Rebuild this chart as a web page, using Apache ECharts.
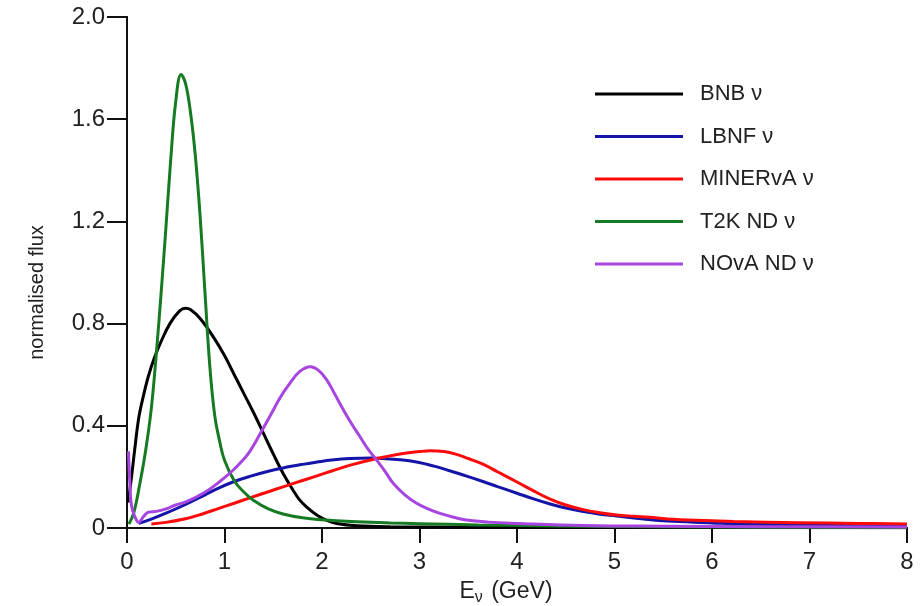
<!DOCTYPE html>
<html>
<head>
<meta charset="utf-8">
<script src="https://cdn.jsdelivr.net/npm/echarts@6/dist/echarts.min.js"></script>
<style>
  html, body { margin: 0; padding: 0; background: #fff; }
  #chart { width: 922px; height: 606px; }
</style>
</head>
<body>
<div id="chart"></div>
<script>
// Neutrino energy spectra (normalised flux vs E_nu in GeV)
const seriesNames = ['BNB ν', 'LBNF ν', 'MINERvA ν', 'T2K ND ν', 'NOvA ND ν'];

const bnbE = [0.01, 0.04, 0.08, 0.12, 0.17, 0.22, 0.28, 0.35, 0.44, 0.54, 0.6, 0.65, 0.75, 0.89, 1.0, 1.1, 1.2, 1.3, 1.4, 1.5, 1.6, 1.7, 1.77, 1.85, 1.95, 2.05, 2.15, 2.36, 2.7, 3.5, 5.0, 8.0];
const bnbF = [0.10, 0.18, 0.31, 0.43, 0.52, 0.595, 0.665, 0.73, 0.80, 0.85, 0.86, 0.855, 0.82, 0.745, 0.675, 0.60, 0.525, 0.45, 0.37, 0.29, 0.214, 0.15, 0.11, 0.08, 0.05, 0.03, 0.018, 0.009, 0.005, 0.003, 0.002, 0.001];

const lbnfE = [0.12, 0.25, 0.4, 0.6, 0.8, 0.95, 1.1, 1.26, 1.45, 1.6, 1.8, 1.95, 2.1, 2.29, 2.5, 2.63, 2.8, 2.97, 3.15, 3.31, 3.5, 3.65, 3.8, 4.0, 4.17, 4.34, 4.5, 4.68, 4.85, 5.02, 5.3, 5.54, 6.0, 6.22, 6.9, 8.0];
const lbnfF = [0.018, 0.035, 0.058, 0.092, 0.13, 0.158, 0.182, 0.202, 0.222, 0.235, 0.249, 0.258, 0.266, 0.272, 0.274, 0.272, 0.267, 0.258, 0.242, 0.224, 0.201, 0.182, 0.162, 0.136, 0.114, 0.094, 0.078, 0.064, 0.054, 0.047, 0.035, 0.027, 0.02, 0.016, 0.012, 0.01];

const minervaE = [0.25, 0.4, 0.6, 0.75, 0.95, 1.1, 1.26, 1.45, 1.6, 1.8, 1.95, 2.1, 2.29, 2.54, 2.8, 3.0, 3.11, 3.25, 3.38, 3.5, 3.65, 3.8, 4.0, 4.17, 4.34, 4.5, 4.68, 4.85, 5.02, 5.2, 5.36, 5.54, 6.0, 6.22, 6.9, 7.5, 8.0];
const minervaF = [0.016, 0.022, 0.036, 0.052, 0.078, 0.097, 0.118, 0.142, 0.161, 0.186, 0.204, 0.223, 0.246, 0.27, 0.29, 0.299, 0.302, 0.299, 0.288, 0.272, 0.25, 0.22, 0.18, 0.145, 0.113, 0.09, 0.072, 0.06, 0.051, 0.046, 0.042, 0.035, 0.028, 0.025, 0.021, 0.018, 0.016];

const t2kE = [0.02, 0.07, 0.13, 0.19, 0.25, 0.3, 0.35, 0.4, 0.45, 0.5, 0.555, 0.6, 0.65, 0.7, 0.75, 0.8, 0.85, 0.9, 0.95, 1.0, 1.1, 1.2, 1.3, 1.45, 1.6, 1.8, 2.0, 2.3, 2.7, 3.0, 3.6, 4.2, 5.0, 6.0, 8.0];
const t2kF = [0.015, 0.06, 0.17, 0.30, 0.47, 0.68, 0.92, 1.18, 1.45, 1.67, 1.775, 1.74, 1.63, 1.46, 1.22, 0.92, 0.63, 0.44, 0.34, 0.265, 0.185, 0.14, 0.108, 0.075, 0.055, 0.04, 0.032, 0.025, 0.02, 0.017, 0.012, 0.009, 0.006, 0.004, 0.002];

const novaE = [0.015, 0.03, 0.045, 0.08, 0.12, 0.17, 0.22, 0.3, 0.4, 0.5, 0.61, 0.8, 0.95, 1.09, 1.18, 1.26, 1.36, 1.47, 1.57, 1.67, 1.77, 1.88, 1.97, 2.05, 2.13, 2.22, 2.3, 2.39, 2.47, 2.56, 2.65, 2.73, 2.85, 2.97, 3.1, 3.21, 3.35, 3.48, 3.7, 4.0, 4.68, 5.5, 6.5, 8.0];
const novaF = [0.30, 0.17, 0.09, 0.045, 0.022, 0.045, 0.062, 0.065, 0.075, 0.09, 0.103, 0.14, 0.181, 0.227, 0.262, 0.30, 0.365, 0.44, 0.51, 0.566, 0.612, 0.631, 0.615, 0.579, 0.525, 0.462, 0.41, 0.357, 0.31, 0.266, 0.22, 0.175, 0.13, 0.097, 0.073, 0.057, 0.042, 0.031, 0.023, 0.018, 0.01, 0.007, 0.005, 0.004];

const xTicks = [0, 1, 2, 3, 4, 5, 6, 7, 8];
const yTicks = [0, 0.4, 0.8, 1.2, 1.6, 2.0];

const colors = ['#000000', '#1414a8', '#ff0a0a', '#167a22', '#a745e0'];
const energies = [bnbE, lbnfE, minervaE, t2kE, novaE];
const fluxes = [bnbF, lbnfF, minervaF, t2kF, novaF];

const pairs = (xs, ys) => xs.map((x, i) => [x, ys[i]]);

const chart = echarts.init(document.getElementById('chart'), null, { renderer: 'canvas' });

const fontFamily = 'Liberation Sans, Arial, sans-serif';
const axisLineStyle = { color: '#111', width: 2 };

chart.setOption({
  animation: false,
  color: colors,
  grid: { left: 127, right: 15, top: 17, bottom: 78, containLabel: false, outerBoundsMode: 'none' },
  legend: {
    orient: 'vertical',
    left: 590,
    top: 78,
    icon: 'rect',
    itemWidth: 88,
    itemHeight: 3,
    itemGap: 20.5,
    data: seriesNames,
    textStyle: { fontFamily, fontSize: 22, color: '#222', padding: [0, 0, 0, 12] }
  },
  xAxis: [{
    type: 'value',
    min: xTicks[0],
    max: xTicks[xTicks.length - 1],
    interval: 1,
    name: 'E{sub|ν} (GeV)',
    nameLocation: 'middle',
    nameGap: 49,
    nameTextStyle: {
      fontFamily, fontSize: 23, color: '#222',
      padding: [0, 22, 0, 0],
      rich: { sub: { fontFamily, fontSize: 16, color: '#222', verticalAlign: 'bottom', padding: [13, 2, 0, 0] } }
    },
    axisLine: { onZero: false, lineStyle: axisLineStyle },
    axisTick: { length: 15, lineStyle: axisLineStyle },
    axisLabel: { margin: 22, fontFamily, fontSize: 24, color: '#222' },
    splitLine: { show: false }
  }, {
    type: 'value',
    position: 'top',
    min: xTicks[0],
    max: xTicks[xTicks.length - 1],
    axisLine: { show: true, lineStyle: axisLineStyle },
    axisTick: { show: false },
    axisLabel: { show: false },
    splitLine: { show: false }
  }],
  yAxis: [{
    type: 'value',
    min: yTicks[0],
    max: yTicks[yTicks.length - 1],
    interval: 0.4,
    name: 'normalised flux',
    nameLocation: 'middle',
    nameGap: 80,
    nameTextStyle: { fontFamily, fontSize: 20, color: '#222', padding: [0, 40, 0, 0] },
    axisLine: { onZero: false, lineStyle: axisLineStyle },
    axisTick: { length: 20, lineStyle: axisLineStyle },
    axisLabel: {
      margin: 22, fontFamily, fontSize: 24, color: '#222',
      formatter: v => (v === 0 ? '0' : v.toFixed(1))
    },
    splitLine: { show: false }
  }, {
    type: 'value',
    position: 'right',
    min: yTicks[0],
    max: yTicks[yTicks.length - 1],
    axisLine: { show: true, lineStyle: axisLineStyle },
    axisTick: { show: false },
    axisLabel: { show: false },
    splitLine: { show: false }
  }],
  series: seriesNames.map((name, i) => ({
    name,
    type: 'line',
    xAxisIndex: 0,
    yAxisIndex: 0,
    data: pairs(energies[i], fluxes[i]),
    symbol: 'none',
    smooth: 0.4,
    lineStyle: { width: 3, color: colors[i] },
    itemStyle: { color: colors[i] }
  }))
});
</script>
</body>
</html>
